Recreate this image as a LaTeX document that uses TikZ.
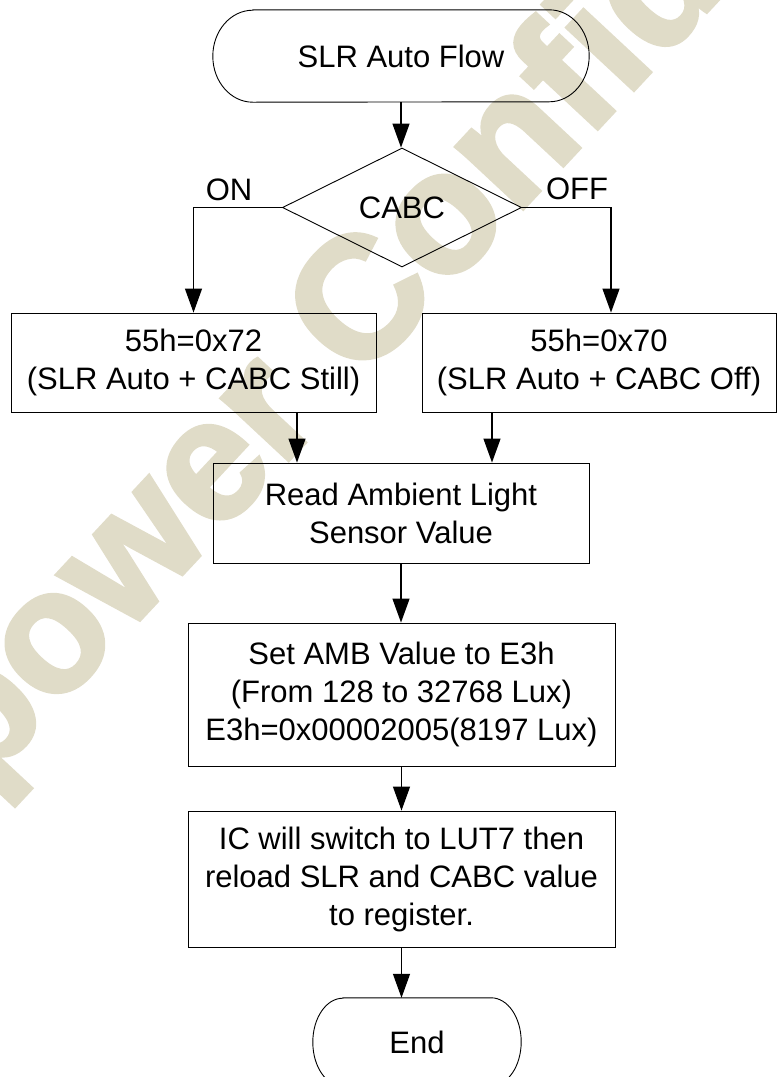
\documentclass[tikz,border=0pt]{standalone}
\usepackage{fontspec}
\setmainfont{Liberation Sans}
\newfontfamily\wmfont{Liberation Sans Bold}[FakeBold=2.5]
\usetikzlibrary{shapes.geometric,arrows.meta,calc}
\definecolor{wm}{RGB}{224,220,200}
\newcommand{\flowfont}{\fontsize{31}{38}\selectfont}
\begin{document}
\begin{tikzpicture}[x=1pt,y=1pt,
  every node/.style={font=\flowfont},
  box/.style={draw, line width=0.9pt, inner sep=0pt, align=center},
  arr/.style={-{Triangle[length=24pt,width=17pt]}, line width=1.3pt},
  ln/.style={line width=0.9pt}]
\useasboundingbox (0,0) rectangle (777,-1077);
\clip (0,0) rectangle (777,-1077);
% watermark
\node[rotate=47, text=wm, font=\wmfont\fontsize{172}{172}\selectfont] (wmk) at (388,-288) {Fitipower Confidential};
% start terminator
\node[minimum width=376pt, minimum height=92pt, inner sep=0pt] (start) at (401,-56) {SLR Auto Flow};
\draw[ln] ([xshift=40pt]start.north west) -- ([xshift=-40pt]start.north east)
  arc[start angle=90, end angle=-90, x radius=40pt, y radius=46pt]
  -- ([xshift=40pt]start.south west)
  arc[start angle=270, end angle=90, x radius=40pt, y radius=46pt] -- cycle;
% decision
\node[diamond, draw, ln, minimum width=239pt, minimum height=119pt, inner sep=0pt] (dec) at (402,-207.5) {CABC};
\node (on) at (229,-190) {ON};
\node (off) at (577,-189) {OFF};
% boxes
\node[box, minimum width=365pt, minimum height=99pt] (b1) at (193.5,-362.5) {55h=0x72\\(SLR Auto + CABC Still)};
\node[box, minimum width=354pt, minimum height=99pt] (b2) at (599,-362.5) {55h=0x70\\(SLR Auto + CABC Off)};
\node[box, minimum width=376pt, minimum height=100pt] (read) at (401,-513) {Read Ambient Light\\Sensor Value};
\node[box, minimum width=427pt, minimum height=143pt] (set) at (401.5,-694.5) {Set AMB Value to E3h\\(From 128 to 32768 Lux)\\E3h=0x00002005(8197 Lux)};
\node[box, minimum width=427pt, minimum height=136pt] (ic) at (401.5,-879) {IC will switch to LUT7 then\\reload SLR and CABC value\\to register.};
% end terminator
\node[minimum width=208pt, minimum height=88pt, inner sep=0pt] (end) at (417,-1042) {End};
\draw[ln] ([xshift=30pt]end.north west) -- ([xshift=-30pt]end.north east)
  arc[start angle=90, end angle=-90, x radius=30pt, y radius=44pt]
  -- ([xshift=30pt]end.south west)
  arc[start angle=270, end angle=90, x radius=30pt, y radius=44pt] -- cycle;
% connectors
\draw[arr] (start.south) -- (start.south |- dec.north);
\draw[arr] (dec.west) -| (b1.north);
\draw[arr] (dec.east) -| ([xshift=12pt]b2.north);
\draw[arr] ([xshift=103.5pt]b1.south) -- ([xshift=103.5pt]b1.south |- read.north);
\draw[arr] ([xshift=-107pt]b2.south) -- ([xshift=-107pt]b2.south |- read.north);
\draw[arr] (read.south) -- (read.south |- set.north);
\draw[arr] (set.south) -- (set.south |- ic.north);
\draw[arr] (ic.south) -- (ic.south |- end.north);
\end{tikzpicture}
\end{document}
